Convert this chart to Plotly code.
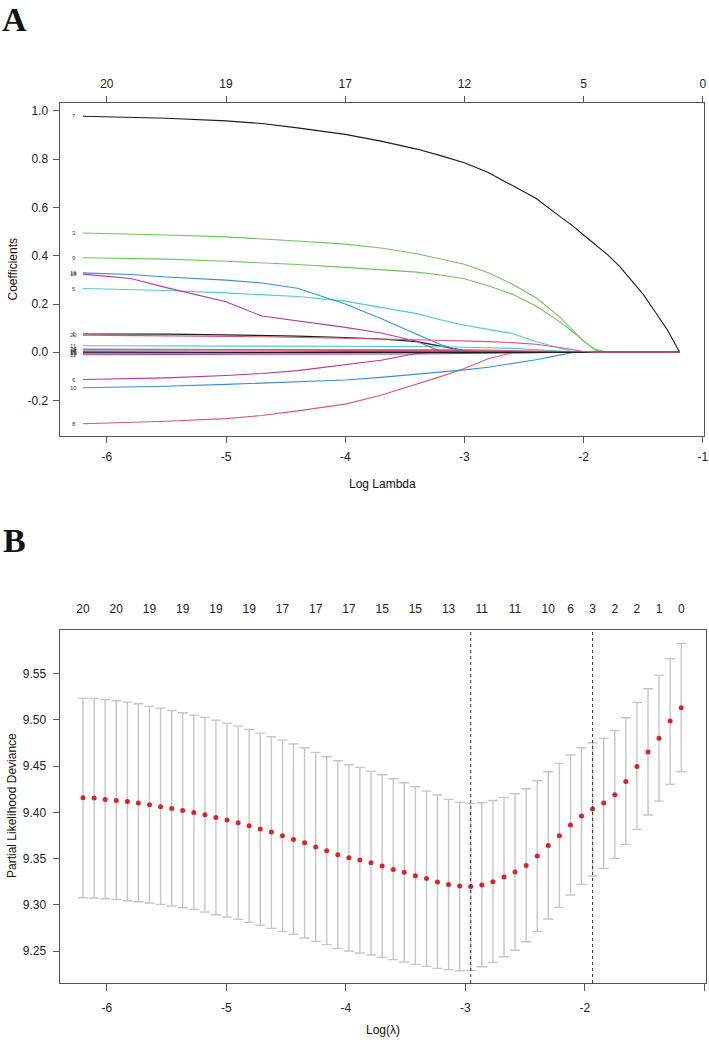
import plotly.graph_objects as go

# ---------------- Panel A: coefficient paths ----------------
K = [-6.2, -5.8, -5.5, -5.0, -4.7, -4.4, -4.0, -3.7, -3.4, -3.2, -3.0, -2.8,
     -2.6, -2.4, -2.2, -2.1, -2.0, -1.9, -1.8, -1.6, -1.4, -1.194]
K7 = [-6.2, -5.8, -5.5, -5.0, -4.7, -4.4, -4.0, -3.7, -3.4, -3.2, -3.0, -2.8,
      -2.6, -2.4, -2.2, -2.1, -2.0, -1.9, -1.8, -1.7, -1.6, -1.5, -1.4, -1.3, -1.194]

B1 = [0.076, 0.076, 0.075, 0.072, 0.070, 0.067, 0.061, 0.055, 0.044, 0.025, 0.007, 0, 0, 0, 0, 0, 0, 0, 0, 0, 0, 0]
B2 = [0.010, 0.010, 0.010, 0.010, 0.010, 0.010, 0.009, 0.009, 0.008, 0.008, 0.007, 0.005, 0.002, 0, 0, 0, 0, 0, 0, 0, 0, 0]
B3 = [0.494, 0.490, 0.486, 0.478, 0.470, 0.461, 0.448, 0.432, 0.408, 0.388, 0.365, 0.330, 0.283, 0.226, 0.147, 0.096, 0.045, 0.012, 0, 0, 0, 0]
B4 = [0.004, 0.004, 0.004, 0.004, 0.004, 0.003, 0.002, 0.001, 0, 0, 0, 0, 0, 0, 0, 0, 0, 0, 0, 0, 0, 0]
B5 = [0.264, 0.260, 0.256, 0.246, 0.240, 0.231, 0.212, 0.185, 0.160, 0.135, 0.112, 0.095, 0.078, 0.045, 0.016, 0.003, 0, 0, 0, 0, 0, 0]
B6 = [-0.113, -0.110, -0.106, -0.096, -0.088, -0.076, -0.052, -0.033, -0.005, 0, 0, 0, 0, 0, 0, 0, 0, 0, 0, 0, 0, 0]
B7 = [0.978, 0.975, 0.970, 0.959, 0.948, 0.930, 0.903, 0.875, 0.842, 0.815, 0.785, 0.745, 0.690, 0.638,
      0.563, 0.527, 0.486, 0.446, 0.405, 0.357, 0.300, 0.240, 0.168, 0.095, 0.0]
B8 = [-0.296, -0.292, -0.286, -0.275, -0.262, -0.243, -0.215, -0.178, -0.133, -0.101, -0.067, -0.027, -0.003, 0, 0, 0, 0, 0, 0, 0, 0, 0]
B9 = [0.392, 0.389, 0.386, 0.377, 0.371, 0.364, 0.352, 0.343, 0.332, 0.320, 0.305, 0.276, 0.241, 0.192, 0.127, 0.088, 0.048, 0.008, 0, 0, 0, 0]
B10 = [-0.147, -0.145, -0.141, -0.133, -0.128, -0.122, -0.115, -0.104, -0.092, -0.083, -0.073, -0.062, -0.047, -0.031, -0.012, -0.002, 0, 0, 0, 0, 0, 0]
B11 = [0.027, 0.027, 0.027, 0.027, 0.027, 0.026, 0.026, 0.025, 0.024, 0.023, 0.022, 0.019, 0.016, 0.012, 0.005, 0, 0, 0, 0, 0, 0, 0]
B12 = [-0.010, -0.010, -0.010, -0.010, -0.010, -0.009, -0.009, -0.008, -0.007, -0.006, -0.005, -0.002, 0, 0, 0, 0, 0, 0, 0, 0, 0, 0]
B13 = [0.002, 0.002, 0.002, 0.001, 0, 0, 0, 0, 0, 0, 0, 0, 0, 0, 0, 0, 0, 0, 0, 0, 0, 0]
B14 = [0.013, 0.013, 0.013, 0.013, 0.013, 0.012, 0.012, 0.011, 0.011, 0.010, 0.010, 0.009, 0.007, 0.005, 0.002, 0, 0, 0, 0, 0, 0, 0]
B15 = [-0.004, -0.004, -0.004, -0.004, -0.003, -0.003, -0.002, -0.002, -0.001, 0, 0, 0, 0, 0, 0, 0, 0, 0, 0, 0, 0, 0]
B16 = [0.329, 0.322, 0.312, 0.299, 0.287, 0.265, 0.200, 0.140, 0.075, 0.032, 0.002, 0, 0, 0, 0, 0, 0, 0, 0, 0, 0, 0]
B17 = [0.005, 0.005, 0.005, 0.004, 0.003, 0.002, 0, 0, 0, 0, 0, 0, 0, 0, 0, 0, 0, 0, 0, 0, 0, 0]
B18 = [0.324, 0.306, 0.268, 0.209, 0.150, 0.131, 0.103, 0.080, 0.046, 0.003, 0, 0, 0, 0, 0, 0, 0, 0, 0, 0, 0, 0]
B19 = [-0.002, -0.002, -0.001, 0, 0, 0, 0, 0, 0, 0, 0, 0, 0, 0, 0, 0, 0, 0, 0, 0, 0, 0]
B20 = [0.071, 0.070, 0.069, 0.066, 0.064, 0.062, 0.058, 0.055, 0.052, 0.050, 0.047, 0.044, 0.040, 0.033, 0.020, 0.012, 0.003, 0, 0, 0, 0, 0]

VAR_NAMES = [str(i) for i in range(1, 21)]
COEFS = [B1, B2, B3, B4, B5, B6, B7, B8, B9, B10, B11, B12, B13, B14, B15, B16, B17, B18, B19, B20]
COEF_X = [K7 if i == 6 else K for i in range(20)]
R_PAL = ["#1c1c1c", "#D9587A", "#72C45E", "#3A8FD6", "#4CCAD8", "#B23AA4"]
LINE_COLORS = [R_PAL[i % 6] for i in range(20)]

X_TICKS = [-6, -5, -4, -3, -2, -1]
X_TICK_LABELS = ["-6", "-5", "-4", "-3", "-2", "-1"]
YA_TICKS = [-0.2, 0.0, 0.2, 0.4, 0.6, 0.8, 1.0]
YA_TICK_LABELS = ["-0.2", "0.0", "0.2", "0.4", "0.6", "0.8", "1.0"]
TOP_A_POS = [-6, -5, -4, -3, -2, -1]
TOP_A_DF = ["20", "19", "17", "12", "5", "0"]

# ---------------- Panel B: cross-validation curve ----------------
X_LOG = [-6.200, -6.107, -6.015, -5.922, -5.829, -5.737, -5.644, -5.551, -5.458, -5.366,
         -5.273, -5.180, -5.088, -4.995, -4.902, -4.810, -4.717, -4.624, -4.531, -4.439,
         -4.346, -4.253, -4.161, -4.068, -3.975, -3.883, -3.790, -3.697, -3.604, -3.512,
         -3.419, -3.326, -3.234, -3.141, -3.048, -2.956, -2.863, -2.770, -2.677, -2.585,
         -2.492, -2.399, -2.307, -2.214, -2.121, -2.029, -1.936, -1.843, -1.750, -1.658,
         -1.565, -1.472, -1.380, -1.287, -1.194]
CV_MEAN = [9.4158, 9.4154, 9.4140, 9.4129, 9.4118, 9.4100, 9.4082, 9.4061, 9.4043, 9.4021,
           9.4000, 9.3974, 9.3945, 9.3917, 9.3888, 9.3856, 9.3820, 9.3787, 9.3748, 9.3708,
           9.3672, 9.3625, 9.3586, 9.3543, 9.3510, 9.3485, 9.3456, 9.3420, 9.3384, 9.3352,
           9.3316, 9.3287, 9.3247, 9.3222, 9.3204, 9.3200, 9.3215, 9.3251, 9.3301, 9.3355,
           9.3427, 9.3528, 9.3643, 9.3748, 9.3863, 9.3960, 9.4036, 9.4100, 9.4190, 9.4334,
           9.4496, 9.4651, 9.4802, 9.4986, 9.5130]
CV_UPPER = [9.5234, 9.5231, 9.5220, 9.5206, 9.5191, 9.5173, 9.5148, 9.5126, 9.5101, 9.5076,
            9.5051, 9.5026, 9.4997, 9.4964, 9.4932, 9.4896, 9.4856, 9.4817, 9.4781, 9.4738,
            9.4698, 9.4648, 9.4601, 9.4558, 9.4514, 9.4486, 9.4446, 9.4407, 9.4363, 9.4320,
            9.4277, 9.4230, 9.4187, 9.4140, 9.4111, 9.4097, 9.4104, 9.4129, 9.4162, 9.4201,
            9.4255, 9.4342, 9.4439, 9.4529, 9.4619, 9.4698, 9.4752, 9.4802, 9.4885, 9.5022,
            9.5188, 9.5335, 9.5483, 9.5659, 9.5825]
CV_LOWER = [9.3078, 9.3075, 9.3067, 9.3060, 9.3046, 9.3035, 9.3021, 9.3006, 9.2988, 9.2970,
            9.2952, 9.2923, 9.2895, 9.2869, 9.2844, 9.2812, 9.2780, 9.2747, 9.2715, 9.2682,
            9.2643, 9.2607, 9.2571, 9.2531, 9.2502, 9.2481, 9.2459, 9.2434, 9.2409, 9.2384,
            9.2358, 9.2337, 9.2315, 9.2301, 9.2290, 9.2293, 9.2333, 9.2380, 9.2441, 9.2510,
            9.2603, 9.2715, 9.2848, 9.2974, 9.3107, 9.3222, 9.3312, 9.3395, 9.3503, 9.3654,
            9.3816, 9.3971, 9.4122, 9.4302, 9.4439]
TOP_B_IDX = [0, 3, 6, 9, 12, 15, 18, 21, 24, 27, 30, 33, 36, 39, 42, 44, 46, 48, 50, 52, 54]
TOP_B_DF = ["20", "20", "19", "19", "19", "19", "17", "17", "17", "15", "15", "13", "11", "11",
            "10", "6", "3", "2", "2", "1", "0"]
IDX_MIN = 35
IDX_1SE = 46
YB_TICKS = [9.25, 9.30, 9.35, 9.40, 9.45, 9.50, 9.55]
YB_TICK_LABELS = ["9.25", "9.30", "9.35", "9.40", "9.45", "9.50", "9.55"]

W, H = 709, 1040
FONT = "Liberation Sans, Arial, sans-serif"
AX = "#555555"

fig = go.Figure()

for xs, vals, col in zip(COEF_X, COEFS, LINE_COLORS):
    fig.add_trace(go.Scatter(x=xs, y=vals, mode="lines", line=dict(color=col, width=1.1),
                             xaxis="x", yaxis="y", showlegend=False, hoverinfo="skip"))

# invisible trace for the top (df) axis of panel A
fig.add_trace(go.Scatter(x=TOP_A_POS, y=[0] * len(TOP_A_POS), mode="markers",
                         marker=dict(opacity=0), xaxis="x3", yaxis="y",
                         showlegend=False, hoverinfo="skip"))

# panel B points with error bars
fig.add_trace(go.Scatter(
    x=X_LOG, y=CV_MEAN, mode="markers",
    marker=dict(color="#D9232B", size=5),
    error_y=dict(type="data", symmetric=False,
                 array=[u - m for u, m in zip(CV_UPPER, CV_MEAN)],
                 arrayminus=[m - l for m, l in zip(CV_MEAN, CV_LOWER)],
                 color="#C6C6C6", thickness=1.4, width=5),
    xaxis="x2", yaxis="y2", showlegend=False, hoverinfo="skip"))

TOP_B_POS = [X_LOG[i] for i in TOP_B_IDX]
fig.add_trace(go.Scatter(x=TOP_B_POS, y=[CV_MEAN[i] for i in TOP_B_IDX], mode="markers",
                         marker=dict(opacity=0), xaxis="x4", yaxis="y2",
                         showlegend=False, hoverinfo="skip"))

for xv in (X_LOG[IDX_MIN], X_LOG[IDX_1SE]):
    fig.add_shape(type="line", xref="x2", yref="y2 domain", x0=xv, x1=xv, y0=0, y1=1,
                  line=dict(color="#333333", width=1, dash="dot"))

# variable labels at the left of the coefficient paths
for name, vals in zip(VAR_NAMES, COEFS):
    fig.add_annotation(x=-6.277, y=vals[0], xref="x", yref="y", text=name, showarrow=False,
                       font=dict(size=6, color="#444444", family=FONT),
                       xanchor="center", yanchor="middle")


def px(x):
    return x / W


def py(y):
    return 1 - y / H


def axis(**kw):
    d = dict(showgrid=False, zeroline=False, showline=True, linecolor=AX, linewidth=1,
             ticks="outside", ticklen=6, tickcolor=AX, tickwidth=1,
             tickfont=dict(family=FONT, size=12, color="#222222"), automargin=False)
    d.update(kw)
    return d


fig.update_layout(
    width=W, height=H, margin=dict(l=0, r=0, t=0, b=0), autosize=False,
    paper_bgcolor="white", plot_bgcolor="white", showlegend=False,
    xaxis=axis(domain=[px(59.5), px(704)], anchor="y", range=[-6.397, -0.99],
               tickvals=X_TICKS, ticktext=X_TICK_LABELS, mirror=True, ticklabelstandoff=4),
    yaxis=axis(domain=[py(436), py(103)], anchor="x", range=[-0.347, 1.033],
               tickvals=YA_TICKS, ticktext=YA_TICK_LABELS, mirror=True, ticklabelstandoff=2),
    xaxis3=axis(overlaying="x", side="top", anchor="y", range=[-6.397, -0.99],
                tickvals=TOP_A_POS, ticktext=TOP_A_DF, ticklabelstandoff=3),
    xaxis2=axis(domain=[px(59.5), px(706)], anchor="y2", range=[-6.397, -0.987],
                tickvals=X_TICKS, ticktext=X_TICK_LABELS, mirror=True, ticklen=7,
                ticklabelstandoff=7),
    yaxis2=axis(domain=[py(983), py(630)], anchor="x2", range=[9.2157, 9.597],
                tickvals=YB_TICKS, ticktext=YB_TICK_LABELS, mirror=True, ticklabelstandoff=4),
    xaxis4=axis(overlaying="x2", side="top", anchor="y2", range=[-6.397, -0.987],
                tickvals=TOP_B_POS, ticktext=TOP_B_DF, ticks="", ticklabelstandoff=11),
)

texts = [
    dict(text="<b>A</b>", x=px(15), y=py(19), size=34, family="Liberation Serif, Times New Roman, serif", angle=0),
    dict(text="<b>B</b>", x=px(14), y=py(540), size=34, family="Liberation Serif, Times New Roman, serif", angle=0),
    dict(text="Coefficients", x=px(12), y=py(269.5), size=12, family=FONT, angle=-90),
    dict(text="Log Lambda", x=px(382), y=py(484), size=12, family=FONT, angle=0),
    dict(text="Partial Likelihood Deviance", x=px(12), y=py(806), size=12, family=FONT, angle=-90),
    dict(text="Log(λ)", x=px(383), y=py(1030), size=12, family=FONT, angle=0),
]
for t in texts:
    fig.add_annotation(text=t["text"], x=t["x"], y=t["y"], xref="paper", yref="paper",
                       showarrow=False, textangle=t["angle"], xanchor="center", yanchor="middle",
                       borderpad=0, font=dict(size=t["size"], family=t["family"], color="#111111"))

fig.write_html("out.html")
